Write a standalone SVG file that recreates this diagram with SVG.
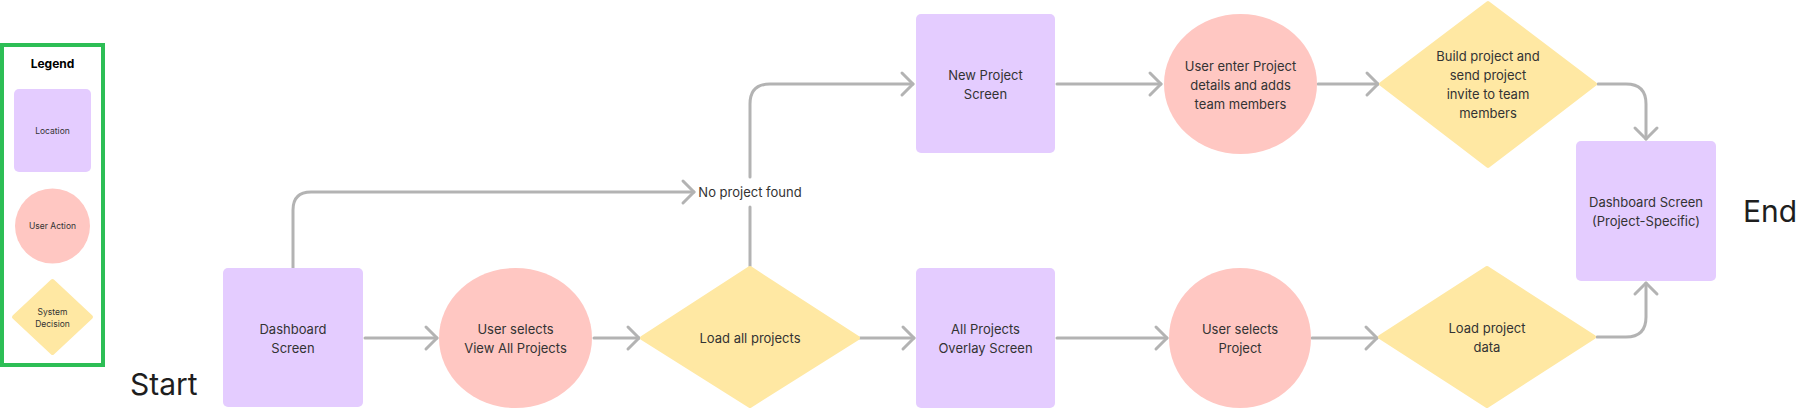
<svg xmlns="http://www.w3.org/2000/svg" width="1801" height="411" viewBox="0 0 1801 411">
<defs>
<style>
.loc{fill:#E4CCFF;}
.act{fill:#FFC7C2;}
.dec{fill:#FFE8A3;stroke:#FFE8A3;stroke-width:4;stroke-linejoin:round;}
.t{font-family:Inter,"Noto Sans","Liberation Sans",sans-serif;font-size:13px;fill:#333333;text-anchor:middle;}
.lt{font-family:Inter,"Noto Sans","Liberation Sans",sans-serif;font-size:8.5px;fill:#333333;text-anchor:middle;}
.big{font-family:Inter,"Noto Sans","Liberation Sans",sans-serif;font-size:30px;fill:#1E1E1E;}
.c{fill:none;stroke:#B3B3B3;stroke-width:3;stroke-linecap:round;stroke-linejoin:round;}
</style>
<marker id="arr" viewBox="-14 -14 18 28" refX="0" refY="0" markerWidth="18" markerHeight="28" markerUnits="userSpaceOnUse" orient="auto">
<path d="M-11,-11 L0,0 L-11,11" fill="none" stroke="#B3B3B3" stroke-width="3" stroke-linecap="round" stroke-linejoin="round"/>
</marker>
</defs>
<rect width="1801" height="411" fill="#FFFFFF"/>

<g id="legend">
<rect x="2" y="45" width="101" height="320" fill="#FFFFFF" stroke="#2DBE55" stroke-width="4"/>
<text x="52.5" y="68" class="t" style="font-weight:700;font-size:12px;fill:#000">Legend</text>
<rect x="14" y="89" width="77" height="83" rx="5" class="loc"/>
<text x="52.5" y="134" class="lt">Location</text>
<circle cx="52.5" cy="226" r="37.5" class="act"/>
<text x="52.5" y="229" class="lt">User Action</text>
<polygon points="52.5,281 91,317 52.5,353 14,317" class="dec"/>
<text x="52.5" y="315" class="lt">System</text>
<text x="52.5" y="327" class="lt">Decision</text>
</g>

<g id="start"><text x="130" y="395" class="big">Start</text></g>
<g id="end"><text x="1743" y="222" class="big">End</text></g>

<g id="connectors">
<path class="c" d="M365,338 L437,338" marker-end="url(#arr)"/>
<path class="c" d="M594,338 L639,338" marker-end="url(#arr)"/>
<path class="c" d="M860,338 L914,338" marker-end="url(#arr)"/>
<path class="c" d="M1057,338 L1167,338" marker-end="url(#arr)"/>
<path class="c" d="M1312,338 L1377,338" marker-end="url(#arr)"/>
<path class="c" d="M1597,337 L1626,337 Q1646,337 1646,317 L1646,283" marker-end="url(#arr)"/>
<path class="c" d="M293,268 L293,210 Q293,192 311,192 L694,192" marker-end="url(#arr)"/>
<path class="c" d="M750,266 L750,207"/>
<path class="c" d="M750,177 L750,104 Q750,84 770,84 L913,84" marker-end="url(#arr)"/>
<path class="c" d="M1057,84 L1161,84" marker-end="url(#arr)"/>
<path class="c" d="M1318,84 L1378,84" marker-end="url(#arr)"/>
<path class="c" d="M1598,84 L1626,84 Q1646,84 1646,104 L1646,139" marker-end="url(#arr)"/>
<text x="750" y="196.5" class="t">No project found</text>
</g>

<g id="dashboard">
<rect x="223" y="268" width="140" height="139" rx="5" class="loc"/>
<text x="293" y="333.5" class="t">Dashboard</text>
<text x="293" y="352.5" class="t">Screen</text>
</g>

<g id="select-view-all">
<ellipse cx="515.5" cy="338" rx="76.5" ry="70" class="act"/>
<text x="515.5" y="333.5" class="t">User selects</text>
<text x="515.5" y="352.5" class="t">View All Projects</text>
</g>

<g id="load-all">
<polygon points="750,268 858,338 750,406 642,338" class="dec"/>
<text x="750" y="342.5" class="t">Load all projects</text>
</g>

<g id="all-projects-overlay">
<rect x="916" y="268" width="139" height="140" rx="5" class="loc"/>
<text x="985.5" y="333.5" class="t">All Projects</text>
<text x="985.5" y="352.5" class="t">Overlay Screen</text>
</g>

<g id="select-project">
<ellipse cx="1240" cy="338" rx="71" ry="70" class="act"/>
<text x="1240" y="333.5" class="t">User selects</text>
<text x="1240" y="352.5" class="t">Project</text>
</g>

<g id="load-project-data">
<polygon points="1487,268 1594,337 1487,406 1380,337" class="dec"/>
<text x="1487" y="332.5" class="t">Load project</text>
<text x="1487" y="351.5" class="t">data</text>
</g>

<g id="new-project">
<rect x="916" y="14" width="139" height="139" rx="5" class="loc"/>
<text x="985.5" y="79.5" class="t">New Project</text>
<text x="985.5" y="98.5" class="t">Screen</text>
</g>

<g id="enter-details">
<ellipse cx="1240.5" cy="84" rx="76.5" ry="70" class="act"/>
<text x="1240.5" y="70.5" class="t">User enter Project</text>
<text x="1240.5" y="89.5" class="t">details and adds</text>
<text x="1240.5" y="108.5" class="t">team members</text>
</g>

<g id="build-project">
<polygon points="1488,3 1595,84 1488,166 1381,84" class="dec"/>
<text x="1488" y="60.5" class="t">Build project and</text>
<text x="1488" y="79.5" class="t">send project</text>
<text x="1488" y="98.5" class="t">invite to team</text>
<text x="1488" y="117.5" class="t">members</text>
</g>

<g id="dashboard-project">
<rect x="1576" y="141" width="140" height="140" rx="5" class="loc"/>
<text x="1646" y="206.5" class="t">Dashboard Screen</text>
<text x="1646" y="225.5" class="t">(Project-Specific)</text>
</g>
</svg>
